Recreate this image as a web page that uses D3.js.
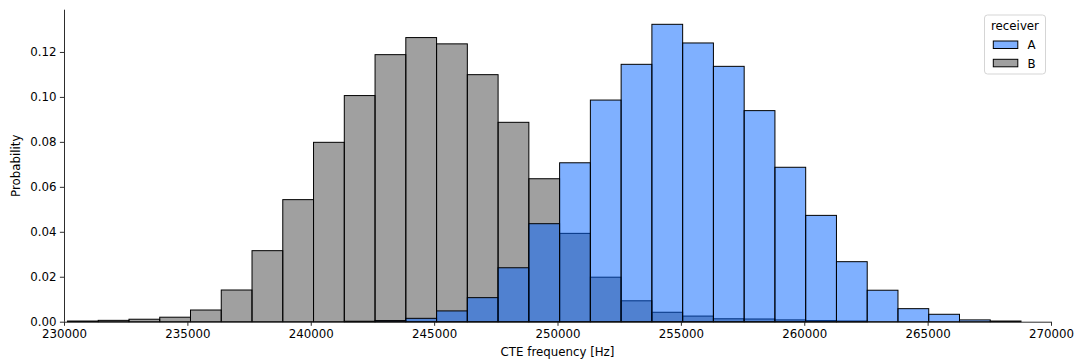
<!DOCTYPE html>
<html>
<head>
<meta charset="utf-8">
<script src="https://cdn.jsdelivr.net/npm/d3@7"></script>
<style>
  html, body { margin: 0; padding: 0; background: #fff; }
  svg { display: block; font-family: "DejaVu Sans", sans-serif; }
</style>
</head>
<body>
<svg id="chart" width="1077" height="360"></svg>
<script>
// Histogram of CTE frequency per receiver (stat = probability, shared bins)
const binStart = 230140;      // Hz, left edge of first bin
const binWidth = 1246.6;      // Hz
const receivers = ["A", "B"];

// Probability per bin, 31 bins
const probA = [0, 0, 0, 0, 0, 0, 0, 0, 0, 0.0002, 0.0005, 0.0015, 0.0048, 0.0107, 0.0240,
  0.0436, 0.0707, 0.0986, 0.1145, 0.1323, 0.1240, 0.1136, 0.0939, 0.0687, 0.0473,
  0.0267, 0.0140, 0.0058, 0.0033, 0.0008, 0.0003];
const probB = [0.0003, 0.0006, 0.0011, 0.0020, 0.0052, 0.0141, 0.0316, 0.0543, 0.0798,
  0.1006, 0.1188, 0.1264, 0.1236, 0.1099, 0.0887, 0.0636, 0.0393, 0.0198, 0.0093,
  0.0042, 0.0025, 0.0013, 0.0012, 0.0008, 0.0005, 0.0003, 0, 0, 0, 0, 0];

const xTicks = [230000, 235000, 240000, 245000, 250000, 255000, 260000, 265000, 270000];
const yTicks = [0.00, 0.02, 0.04, 0.06, 0.08, 0.10, 0.12];

const colors = { A: "#0061ff", B: "#414141" };
const fillAlpha = 0.5;

const svg = d3.select("#chart");
const x = d3.scaleLinear().domain([230000, 270000]).range([64, 1051]);
const y = d3.scaleLinear().domain([0, 0.1388]).range([321.7, 9.7]);

const series = { A: probA, B: probB };

// B first, then A layered on top
["B", "A"].forEach(key => {
  const data = series[key].map((p, i) => ({
    x0: binStart + i * binWidth,
    x1: binStart + (i + 1) * binWidth,
    p
  }));
  svg.append("g")
    .selectAll("rect")
    .data(data)
    .join("rect")
    .attr("x", d => x(d.x0))
    .attr("width", d => x(d.x1) - x(d.x0))
    .attr("y", d => y(d.p))
    .attr("height", d => y(0) - y(d.p))
    .attr("fill", colors[key])
    .attr("fill-opacity", fillAlpha)
    .attr("stroke", "#000")
    .attr("stroke-width", 1);
});

// Axes
const xAxis = d3.axisBottom(x).tickValues(xTicks).tickFormat(d3.format("d"))
  .tickSize(4.1).tickPadding(3.5);
const yAxis = d3.axisLeft(y).tickValues(yTicks).tickFormat(d3.format(".2f"))
  .tickSize(4.1).tickPadding(3.5);

const gx = svg.append("g").attr("transform", `translate(0,${y(0)})`).call(xAxis);
const gy = svg.append("g").attr("transform", `translate(${x(230000)},0)`).call(yAxis);

[gx, gy].forEach(g => {
  g.selectAll("text").attr("font-size", 11.8).attr("fill", "#000")
    .attr("font-family", "DejaVu Sans, sans-serif");
  g.selectAll("line").attr("stroke", "#222").attr("stroke-width", 0.95);
  g.select(".domain").attr("stroke", "#222").attr("stroke-width", 0.95);
});
gy.select(".domain").attr("d", `M0.5,${y(0)}V9.7`);
gx.select(".domain").attr("d", `M${x(230000)},0.5H${x(270000)}`);

// Axis titles
svg.append("text")
  .attr("x", (x(230000) + x(270000)) / 2).attr("y", 356)
  .attr("text-anchor", "middle").attr("font-size", 11.8)
  .text("CTE frequency [Hz]");
svg.append("text")
  .attr("transform", `translate(20,${(y(0) + 9.7) / 2}) rotate(-90)`)
  .attr("text-anchor", "middle").attr("font-size", 11.8)
  .text("Probability");

// Legend
const lg = svg.append("g").attr("transform", "translate(984.5,15)");
lg.append("rect")
  .attr("width", 61).attr("height", 59).attr("rx", 3)
  .attr("fill", "#fff").attr("fill-opacity", 0.8)
  .attr("stroke", "#d5d5d5").attr("stroke-width", 1);
lg.append("text").attr("x", 30.5).attr("y", 14.8)
  .attr("text-anchor", "middle").attr("font-size", 11.8).text("receiver");
receivers.forEach((r, i) => {
  const row = lg.append("g").attr("transform", `translate(0,${26 + i * 18.3})`);
  row.append("rect").attr("x", 8.8).attr("y", 0).attr("width", 24.5).attr("height", 7.5)
    .attr("fill", colors[r]).attr("fill-opacity", fillAlpha)
    .attr("stroke", "#000").attr("stroke-width", 1);
  row.append("text").attr("x", 43).attr("y", 8.2).attr("font-size", 11.8).text(r);
});
</script>
</body>
</html>
